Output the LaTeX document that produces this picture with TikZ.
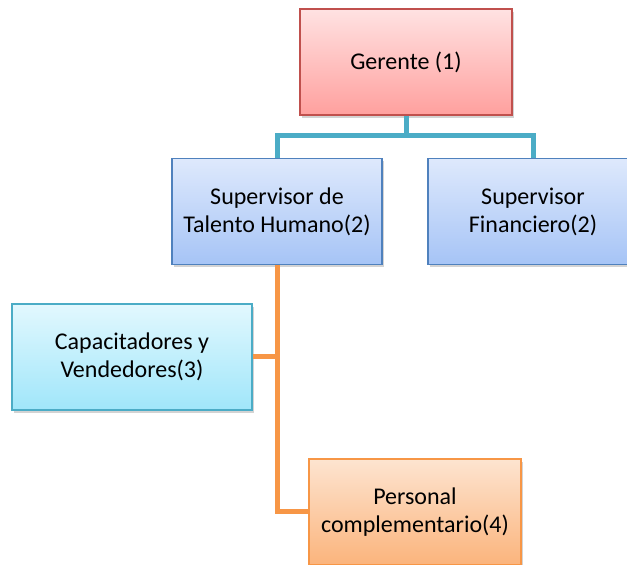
\documentclass[tikz,border=0pt]{standalone}
\usepackage{fontspec}
\setmainfont{Carlito}
\usetikzlibrary{shadows}
\definecolor{redborder}{HTML}{C0504D}
\definecolor{blueborder}{HTML}{4F81BD}
\definecolor{cyanborder}{HTML}{4BACC6}
\definecolor{orangeborder}{HTML}{F79646}
\tikzset{
  orgbox/.style={draw, line width=1.5pt, minimum width=212pt, minimum height=106pt,
    inner sep=0pt, align=center, font=\fontsize{24}{28}\selectfont,
    drop shadow={shadow xshift=2pt, shadow yshift=-3pt, opacity=0.35}},
  redbox/.style={orgbox, draw=redborder, top color={rgb,255:red,255;green,226;blue,226},
    bottom color={rgb,255:red,255;green,160;blue,158}},
  bluebox/.style={orgbox, draw=blueborder, top color={rgb,255:red,222;green,233;blue,252},
    bottom color={rgb,255:red,166;green,196;blue,246}},
  cyanbox/.style={orgbox, draw=cyanborder, top color={rgb,255:red,226;green,248;blue,254},
    bottom color={rgb,255:red,160;green,230;blue,250}},
  orangebox/.style={orgbox, draw=orangeborder, top color={rgb,255:red,253;green,228;blue,208},
    bottom color={rgb,255:red,251;green,180;blue,124}},
  bluelink/.style={draw=cyanborder, line width=5pt},
  orangelink/.style={draw=orangeborder, line width=5pt}
}
\begin{document}
\begin{tikzpicture}[x=1pt, y=1pt]
        % page frame
        \useasboundingbox (0,0) rectangle (627,565);
        \clip (0,0) rectangle (627,565);
        % the boxes of the chart
        \node[redbox]    (gerente)       at (406,503)   {Gerente (1)};
        \node[bluebox, minimum width=210pt]   (supthumano)    at (277,353.5) {Supervisor de\\Talento Humano(2)};
        \node[bluebox, minimum width=210pt]   (supfinanciero) at (533,353.5) {Supervisor\\Financiero(2)};
        \node[cyanbox, minimum width=240pt]   (capacitadores) at (132,208)   {Capacitadores y\\Vendedores(3)};
        \node[orangebox] (personal)      at (415,53)    {Personal\\complementario(4)};
        % bend point under the manager
        \coordinate (bus) at (406,429);
        % drawing the links of the first level
        \draw[bluelink] (gerente.south) -- (bus);
        \draw[bluelink] (supthumano.north) |- (bus) -| (supfinanciero.north);
        % drawing the links of the second level
        \draw[orangelink] (supthumano.south) |- (personal.west);
        \draw[orangelink] (capacitadores.east) -| (supthumano.south);
      \end{tikzpicture}
\end{document}
